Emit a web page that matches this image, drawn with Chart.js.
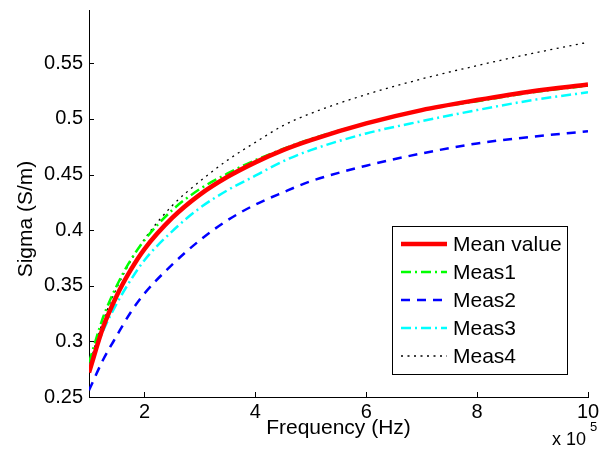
<!DOCTYPE html>
<html lang="en">
  <head>
    <meta charset="UTF-8" />
    <title>Sigma vs Frequency</title>
    <script src="https://cdn.jsdelivr.net/npm/chart.js@4"></script>
    <style>
      body {
        margin: 0;
        background: #fff;
      }
    </style>
  </head>
  <body>
    <canvas id="sigmaChart" width="607" height="454"></canvas>

    <script>
      // frequency in units of 1e5 Hz
      const freq = [1, 1.25, 1.5, 1.75, 2, 2.5, 3, 3.5, 4, 4.5, 5, 6, 7, 8, 9, 10];
      const meanValue = [0.272, 0.312, 0.341, 0.364, 0.383, 0.411, 0.432, 0.448, 0.461, 0.472, 0.481, 0.496, 0.508, 0.517, 0.525, 0.531];
      const meas1 = [0.281, 0.321, 0.350, 0.373, 0.391, 0.418, 0.437, 0.451, 0.463, 0.473, 0.482, 0.496, 0.508, 0.516, 0.524, 0.530];
      const meas2 = [0.256, 0.283, 0.305, 0.326, 0.343, 0.369, 0.391, 0.409, 0.423, 0.434, 0.444, 0.458, 0.469, 0.478, 0.484, 0.489];
      const meas3 = [0.276, 0.309, 0.334, 0.355, 0.373, 0.399, 0.420, 0.436, 0.449, 0.462, 0.472, 0.487, 0.498, 0.508, 0.517, 0.524];
      const meas4 = [0.278, 0.318, 0.348, 0.372, 0.392, 0.422, 0.444, 0.463, 0.479, 0.494, 0.505, 0.522, 0.536, 0.548, 0.559, 0.569];

      const xTicks = [2, 4, 6, 8, 10];
      const yTicks = [0.25, 0.3, 0.35, 0.4, 0.45, 0.5, 0.55];

      const FONT = "'Liberation Sans', Arial, sans-serif";

      function pts(values) {
        return freq.map((f, i) => ({ x: f, y: values[i] }));
      }

      const series = [
        { label: "Mean value", data: meanValue, color: "#ff0000", width: 4.5, dash: [] },
        { label: "Meas1", data: meas1, color: "#00ff00", width: 2.5, dash: [10, 4, 2, 4] },
        { label: "Meas2", data: meas2, color: "#0000ff", width: 2.5, dash: [9, 7] },
        { label: "Meas3", data: meas3, color: "#00ffff", width: 2.5, dash: [10, 4, 2, 4] },
        { label: "Meas4", data: meas4, color: "#000000", width: 1.3, dash: [2, 4.5] },
      ];

      // inward tick marks, y label, legend box and the x 10^5 multiplier
      const matlabStyle = {
        id: "matlabStyle",
        afterDraw(chart) {
          const ctx = chart.ctx;
          const area = chart.chartArea;
          const xs = chart.scales.x;
          const ys = chart.scales.y;
          ctx.save();
          ctx.strokeStyle = "#000";
          ctx.lineWidth = 1;
          ctx.beginPath();
          xTicks.forEach((t) => {
            const px = Math.round(xs.getPixelForValue(t)) + 0.5;
            ctx.moveTo(px, area.bottom);
            ctx.lineTo(px, area.bottom - 5);
          });
          yTicks.forEach((t) => {
            const py = Math.round(ys.getPixelForValue(t)) + 0.5;
            ctx.moveTo(area.left, py);
            ctx.lineTo(area.left + 5, py);
          });
          ctx.stroke();

          // y axis title
          ctx.save();
          ctx.translate(26, 219);
          ctx.rotate(-Math.PI / 2);
          ctx.font = "21px " + FONT;
          ctx.fillStyle = "#000";
          ctx.textAlign = "center";
          ctx.textBaseline = "middle";
          ctx.fillText("Sigma (S/m)", 0, 0);
          ctx.restore();

          // legend
          const lx = 392.5, ly = 226.5, lw = 175, lh = 148;
          ctx.fillStyle = "#fff";
          ctx.fillRect(lx, ly, lw, lh);
          ctx.strokeRect(lx, ly, lw, lh);
          ctx.font = "21px " + FONT;
          ctx.textBaseline = "middle";
          ctx.textAlign = "left";
          series.forEach((s, i) => {
            const y = 244 + i * 28;
            ctx.beginPath();
            ctx.strokeStyle = s.color;
            ctx.lineWidth = s.width;
            ctx.setLineDash(s.dash);
            ctx.moveTo(401, y);
            ctx.lineTo(447, y);
            ctx.stroke();
            ctx.setLineDash([]);
            ctx.fillStyle = "#000";
            ctx.fillText(s.label, 453, y + 1);
          });

          // exponent label
          ctx.fillStyle = "#000";
          ctx.textBaseline = "alphabetic";
          ctx.font = "18px " + FONT;
          ctx.fillText("x 10", 552, 445);
          ctx.font = "13px " + FONT;
          ctx.fillText("5", 590, 431);
          ctx.restore();
        },
      };

      new Chart(document.getElementById("sigmaChart"), {
        type: "line",
        data: {
          datasets: series.map((s) => ({
            label: s.label,
            data: pts(s.data),
            borderColor: s.color,
            borderWidth: s.width,
            borderDash: s.dash,
            pointRadius: 0,
            fill: false,
            cubicInterpolationMode: "monotone",
          })),
        },
        options: {
          responsive: false,
          animation: false,
          layout: { padding: { top: 10, right: 19, left: 0, bottom: 0 } },
          plugins: {
            legend: { display: false },
            tooltip: { enabled: false },
          },
          scales: {
            x: {
              type: "linear",
              min: 1,
              max: 10,
              afterBuildTicks: (scale) => {
                scale.ticks = xTicks.map((v) => ({ value: v }));
              },
              afterFit: (scale) => {
                scale.height = 57;
              },
              grid: { display: false, drawTicks: false },
              border: { display: true, color: "#000", width: 1 },
              ticks: {
                color: "#000",
                font: { family: FONT, size: 20 },
                padding: 3,
                maxRotation: 0,
                autoSkip: false,
                callback: (v) => String(v),
              },
              title: {
                display: true,
                text: "Frequency (Hz)",
                color: "#000",
                font: { family: FONT, size: 21 },
                padding: { top: 0, bottom: 13 },
              },
            },
            y: {
              type: "linear",
              min: 0.25,
              max: 0.598,
              afterBuildTicks: (scale) => {
                scale.ticks = yTicks.map((v) => ({ value: v }));
              },
              afterFit: (scale) => {
                scale.width = 89;
                scale.paddingTop = 0;
                scale.paddingBottom = 0;
              },
              grid: { display: false, drawTicks: false },
              border: { display: true, color: "#000", width: 1 },
              ticks: {
                color: "#000",
                font: { family: FONT, size: 20 },
                padding: 6,
                autoSkip: false,
                callback: (v) => String(+v.toFixed(2)),
              },
              title: { display: false },
            },
          },
        },
        plugins: [matlabStyle],
      });
    </script>
  </body>
</html>
